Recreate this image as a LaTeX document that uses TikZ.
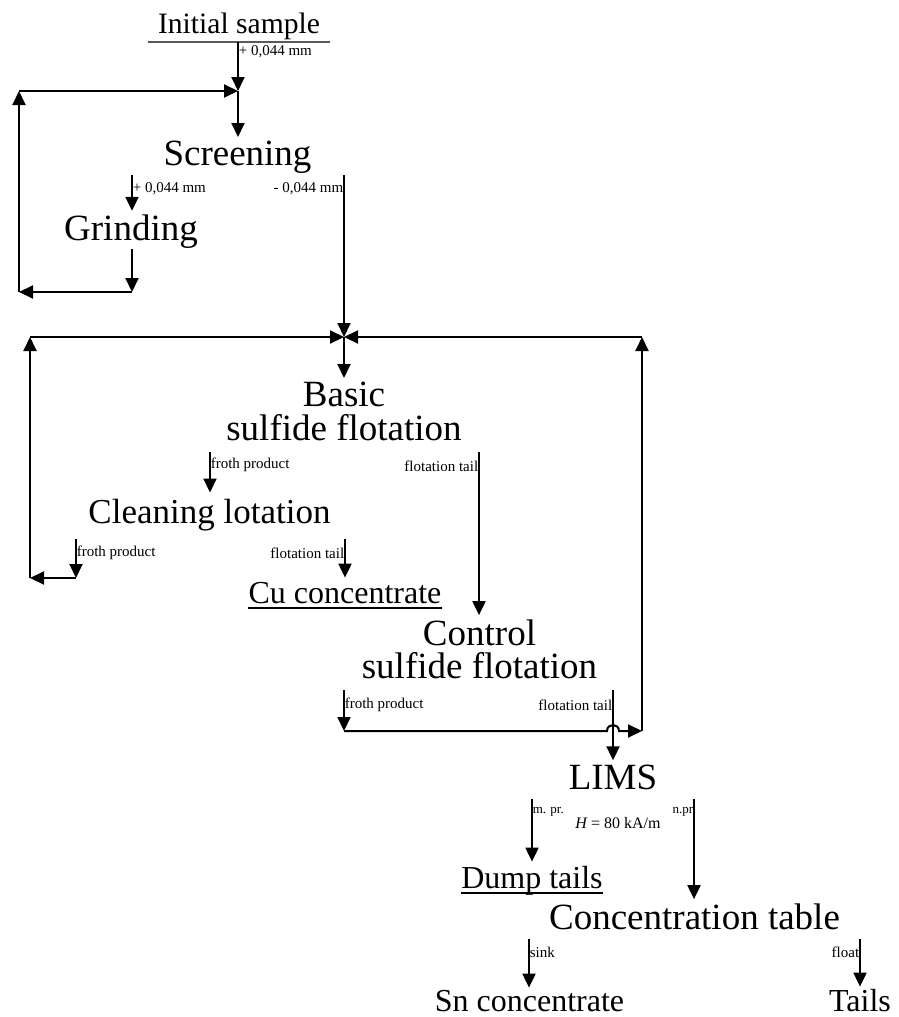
\documentclass[tikz,border=0pt]{standalone}
\usepackage{fontspec}
\setmainfont{Liberation Serif}
\usetikzlibrary{arrows.meta}
\tikzset{
  proc/.style={font=\fontsize{37}{40}\selectfont, inner xsep=0pt, inner ysep=4pt, anchor=base},
  prod/.style={font=\fontsize{32}{36}\selectfont, inner xsep=0pt, inner ysep=4pt, anchor=base},
  lbl/.style={font=\fontsize{15}{17}\selectfont, inner sep=0.6pt},
  slbl/.style={font=\fontsize{13}{15}\selectfont, inner sep=0.6pt},
  flow/.style={line width=2pt, -{Triangle[length=14pt,width=13pt]}},
  uline/.style={line width=1.6pt},
}
\newcommand\twolines[2]{\vtop{\baselineskip=33.3pt\halign{\hfil##\hfil\cr#1\cr#2\cr}}}
\begin{document}
\begin{tikzpicture}[x=1pt,y=-1pt]
\useasboundingbox (0,0) rectangle (898,1017);

% nodes
\node[font=\fontsize{29.6}{32}\selectfont, inner xsep=10pt, inner ysep=2.5pt, anchor=base] (init) at (239,33) {Initial sample};
\draw[gray!70!black, line width=1.5pt] (init.south west) -- (init.south east);
\node[proc] (scr) at (237.5,165.7) {Screening};
\node[proc] (grind) at (131,240.7) {Grinding};
\node[proc] (basic) at (344,406.7) {\twolines{Basic}{sulfide flotation}};
\node[proc, font=\fontsize{35}{38}\selectfont, inner ysep=6pt] (clean) at (209.5,523) {Cleaning lotation};
\node[prod] (cu) at (345,603) {Cu concentrate};
\draw[uline] ([yshift=-4.7pt]cu.base west) -- ([yshift=-4.7pt]cu.base east);
\node[proc] (ctrl) at (479.5,645) {\twolines{Control}{sulfide flotation}};
\node[proc] (lims) at (613,789) {LIMS};
\node[prod] (dump) at (532,888) {Dump tails};
\draw[uline] ([yshift=-4.7pt]dump.base west) -- ([yshift=-4.7pt]dump.base east);
\node[proc] (conc) at (694.5,929) {Concentration table};
\node[prod, inner ysep=2.5pt] (sn) at (529.5,1011.5) {Sn concentrate};
\node[prod, inner ysep=2.5pt] (tails) at (860,1011.5) {Tails};

% connector points
\coordinate (j0) at (238,91);
\coordinate (lt0) at (19,91);
\coordinate (lb0) at (19,292);
\coordinate (gb) at (132,292);
\coordinate (gr) at (132,249);
\coordinate (sl) at (132,175);
\coordinate (sr) at (344,175);
\coordinate (jn) at (344,337);
\coordinate (lt) at (30,337);
\coordinate (lb) at (30,578);
\coordinate (rt) at (642,337);
\coordinate (rb) at (642,731);
\coordinate (bl) at (210,452);
\coordinate (br) at (479,452);
\coordinate (cll) at (76,539);
\coordinate (clb) at (76,578);
\coordinate (clr) at (345,539);
\coordinate (ctl) at (344,690);
\coordinate (ctb) at (344,731);
\coordinate (ctr) at (613,690);
\coordinate (hopl) at (607,731);
\coordinate (hopr) at (619,731);
\coordinate (lil) at (532,799);
\coordinate (lir) at (694,799);
\coordinate (col) at (529,939);
\coordinate (cor) at (860,939);

% labels
\node[lbl, anchor=west] (l0) at (238,52) {+ 0,044 mm};
\node[lbl, anchor=west] (l1) at (132,189) {+ 0,044 mm};
\node[lbl, anchor=east] (l2) at (344,189) {- 0,044 mm};
\node[lbl, anchor=west] (l3) at (210,465) {froth product};
\node[lbl, anchor=east] (l4) at (479,466) {flotation tail};
\node[lbl, anchor=west] (l5) at (76,553) {froth product};
\node[lbl, anchor=east] (l6) at (345,553) {flotation tail};
\node[lbl, anchor=west] (l7) at (344,705) {froth product};
\node[lbl, anchor=east] (l8) at (613,705) {flotation tail};
\node[slbl, anchor=base west] (l9) at (532,813) {m. pr.};
\node[lbl, font=\fontsize{16}{18}\selectfont, anchor=base] (l10) at (618,828) {{\itshape H} = 80 kA/m};
\node[slbl, anchor=base east] (l11) at (694,813) {n.pr};
\node[lbl, anchor=west] (l12) at (529,952) {sink};
\node[lbl, anchor=east] (l13) at (860,952) {float};

% connectors
\draw[flow] (init.south -| j0) -- (j0);
\draw[flow] (j0) -- (j0 |- scr.north);
\draw[flow] (sl) -- (sl |- grind.north);
\draw[flow] (gr) -- (gb);
\draw[flow] (gb) -- (lb0);
\draw[flow] (lb0) -- (lt0);
\draw[flow] (lt0) -- (j0);
\draw[flow] (sr) -- (jn);
\draw[flow] (jn) -- (jn |- basic.north);
\draw[flow] (bl) -- (bl |- clean.north);
\draw[flow] (br) -- (br |- ctrl.north);
\draw[flow] (cll) -- (clb);
\draw[flow] (clb) -- (lb);
\draw[flow] (lb) -- (lt);
\draw[flow] (lt) -- (jn);
\draw[flow] (clr) -- (clr |- cu.north);
\draw[flow] (ctl) -- (ctb);
\draw[flow] (ctb) -- (hopl) .. controls ([yshift=8pt]hopl) and ([yshift=8pt]hopr) .. (hopr) -- (rb);
\draw[flow] (rb) -- (rt);
\draw[flow] (rt) -- (jn);
\draw[flow] (ctr) -- (ctr |- lims.north);
\draw[flow] (lil) -- (lil |- dump.north);
\draw[flow] (lir) -- (lir |- conc.north);
\draw[flow] (col) -- (col |- sn.north);
\draw[flow] (cor) -- (cor |- tails.north);
\end{tikzpicture}
\end{document}
